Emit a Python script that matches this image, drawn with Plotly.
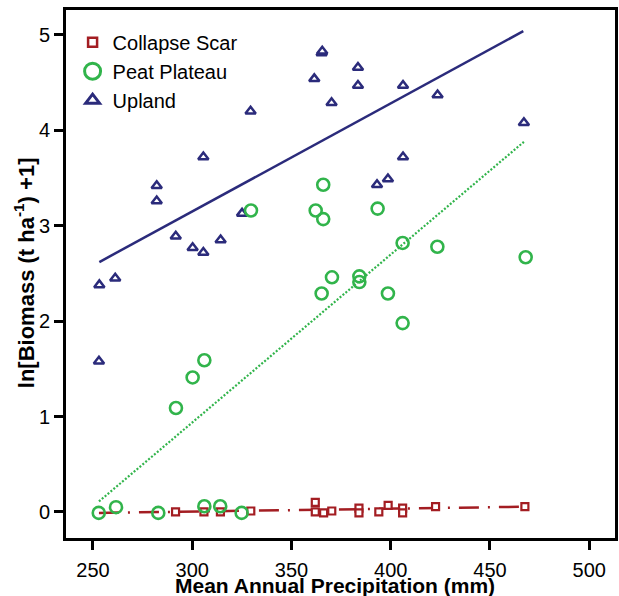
import plotly.graph_objects as go

# ---- data ----
scar_x = [291.6, 305.9, 314.2, 329.5, 362.0, 362.0, 366.2, 370.3, 384.0, 384.0, 394.0, 398.7, 406.0, 406.0, 422.6, 467.6]
scar_y = [0.00, 0.00, 0.00, 0.01, 0.10, 0.00, -0.01, 0.01, 0.04, -0.01, 0.00, 0.07, 0.04, -0.01, 0.055, 0.055]

peat_x = [252.9, 261.6, 282.9, 291.8, 300.2, 306.1, 306.1, 314.1, 324.9, 329.6, 362.2, 365.2, 366.0, 366.0,
          370.4, 384.2, 384.2, 393.4, 398.6, 406.0, 406.0, 423.5, 468.0]
peat_y = [-0.01, 0.05, -0.01, 1.09, 1.41, 1.59, 0.06, 0.06, -0.01, 3.16, 3.16, 2.29, 3.43, 3.07,
          2.46, 2.47, 2.41, 3.18, 2.29, 2.82, 1.98, 2.78, 2.67]

upland_x = [253.0, 253.2, 261.2, 282.1, 282.1, 291.7, 300.2, 305.6, 305.6, 314.3, 325.1, 329.4, 361.5,
            365.2, 365.5, 370.2, 383.5, 383.5, 393.1, 398.6, 406.2, 406.2, 423.6, 467.1]
upland_y = [1.58, 2.38, 2.45, 3.42, 3.26, 2.89, 2.77, 2.72, 3.72, 2.85, 3.13, 4.20, 4.54,
            4.81, 4.83, 4.29, 4.66, 4.47, 3.43, 3.49, 3.72, 4.47, 4.37, 4.08]

# fitted lines (end points)
scar_fit_x = [253.0, 467.6]
scar_fit_y = [-0.01, 0.055]
peat_fit_x = [253.0, 467.1]
peat_fit_y = [0.11, 3.88]
upland_fit_x = [253.2, 466.8]
upland_fit_y = [2.62, 5.04]

series_names = ["Collapse Scar", "Peat Plateau", "Upland"]
x_ticks = [250, 300, 350, 400, 450, 500]
y_ticks = [0, 1, 2, 3, 4, 5]
x_title = "<b>Mean Annual Precipitation (mm)</b>"
y_title = "<b>ln[Biomass (t ha<sup>-1</sup>) +1]</b>"

RED = "#a31d22"
GREEN = "#31b44b"
NAVY = "#2b2b7b"

fig = go.Figure()

# fit lines
fig.add_trace(go.Scatter(x=scar_fit_x, y=scar_fit_y, mode="lines", showlegend=False,
                         line=dict(color=RED, width=2.5, dash="20px,9px,2px,9px")))
fig.add_trace(go.Scatter(x=peat_fit_x, y=peat_fit_y, mode="lines", showlegend=False,
                         line=dict(color=GREEN, width=2.2, dash="2px,1.8px")))
fig.add_trace(go.Scatter(x=upland_fit_x, y=upland_fit_y, mode="lines", showlegend=False,
                         line=dict(color=NAVY, width=2.5)))

# markers
fig.add_trace(go.Scatter(x=scar_x, y=scar_y, mode="markers", showlegend=False,
                         marker=dict(symbol="square", size=7, color="white",
                                     line=dict(color=RED, width=2.2))))
fig.add_trace(go.Scatter(x=upland_x, y=upland_y, mode="markers", showlegend=False,
                         marker=dict(symbol="triangle-up", size=9, color="white",
                                     line=dict(color=NAVY, width=2.5))))
fig.add_trace(go.Scatter(x=peat_x, y=peat_y, mode="markers", showlegend=False,
                         marker=dict(symbol="circle-open", size=12,
                                     line=dict(color=GREEN, width=2.6), color=GREEN)))

# legend entries
legend_markers = [
    dict(symbol="square", size=9, color="white", line=dict(color=RED, width=2.5)),
    dict(symbol="circle-open", size=16, color=GREEN, line=dict(color=GREEN, width=3)),
    dict(symbol="triangle-up", size=12, color="white", line=dict(color=NAVY, width=3)),
]
for i, (nm, mk) in enumerate(zip(series_names, legend_markers)):
    fig.add_trace(go.Scatter(x=[None], y=[None], mode="markers", name=nm, marker=mk,
                             legendgroup=f"g{i}", showlegend=True))

fig.update_layout(
    width=619, height=596,
    margin=dict(l=66, r=4, t=10, b=58),
    paper_bgcolor="white", plot_bgcolor="white",
    font=dict(family="Liberation Sans, Arial, sans-serif", color="black", size=20),
    legend=dict(x=0.012, y=0.976, xanchor="left", yanchor="top", bgcolor="rgba(0,0,0,0)",
                font=dict(size=20), traceorder="grouped", tracegroupgap=0, itemwidth=30),
    xaxis=dict(range=[236.4, 513.0], tickvals=x_ticks, ticks="outside", ticklen=9, tickwidth=3,
               tickcolor="black", showline=True, mirror=True, linecolor="black", linewidth=3,
               showgrid=False, zeroline=False, tickfont=dict(size=20), ticklabelstandoff=3,
               automargin=False),
    yaxis=dict(range=[-0.273, 5.262], tickvals=y_ticks, ticks="outside", ticklen=9, tickwidth=3,
               tickcolor="black", showline=True, mirror=True, linecolor="black", linewidth=3,
               showgrid=False, zeroline=False, tickfont=dict(size=20),
               automargin=False),
    annotations=[
        dict(text=x_title, xref="paper", yref="paper", x=0.49, y=-0.0909,
             xanchor="center", yanchor="middle", showarrow=False, font=dict(size=21)),
        dict(text=y_title, xref="paper", yref="paper", x=-0.076, y=0.502, textangle=-90,
             xanchor="center", yanchor="middle", showarrow=False, font=dict(size=22)),
    ],
)

fig.write_html("out.html", config={"displayModeBar": False},
               post_script="document.body.style.margin='0px';")
